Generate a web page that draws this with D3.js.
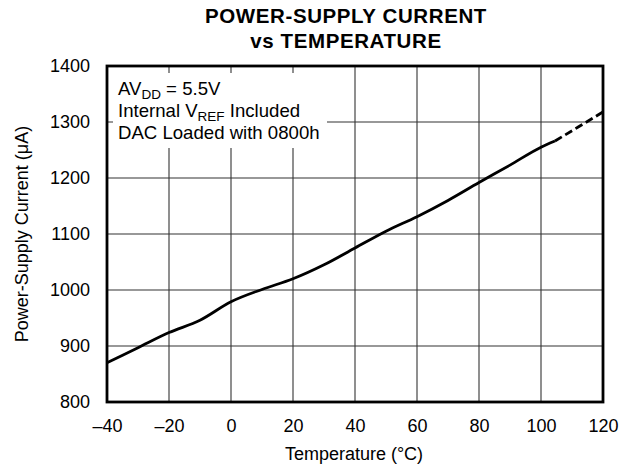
<!DOCTYPE html>
<html>
<head>
<meta charset="utf-8">
<script src="https://cdn.jsdelivr.net/npm/d3@7"></script>
<style>
  html, body { margin: 0; padding: 0; background: #fff; }
  svg { display: block; font-family: "Liberation Sans", Arial, Helvetica, sans-serif; }
</style>
</head>
<body>
<svg id="chart" width="629" height="466"></svg>
<script>
// ---- data ----
const titleLines = ["POWER-SUPPLY CURRENT", "vs TEMPERATURE"];
const xTickValues = [-40, -20, 0, 20, 40, 60, 80, 100, 120];
const yTickValues = [800, 900, 1000, 1100, 1200, 1300, 1400];
const measuredTemps = [-40, -30, -20, -10, 0, 10, 20, 30, 40, 50, 60, 70, 80, 90, 100, 104.5];
const measuredCurrent = [870, 897, 924, 946, 979, 1001, 1020, 1045, 1075, 1105, 1131, 1160, 1192, 1223, 1255, 1266];
const extrapTemps = [104.5, 112, 120];
const extrapCurrent = [1266, 1291, 1318];
const xLabel = "Temperature (°C)";
const yLabel = "Power-Supply Current (μA)";

// ---- layout ----
const svg = d3.select("#chart");
const L = 107, R = 603, T = 66, B = 402;
const x = d3.scaleLinear().domain([-40, 120]).range([L, R]);
const y = d3.scaleLinear().domain([800, 1400]).range([B, T]);

// title
svg.append("g").selectAll("text").data(titleLines).join("text")
  .attr("x", 346).attr("y", (d, i) => 23 + i * 25)
  .attr("text-anchor", "middle")
  .attr("font-size", 20.5).attr("font-weight", "bold")
  .attr("letter-spacing", 0.6)
  .attr("fill", "#000")
  .text(d => d);

// gridlines
const grid = svg.append("g").attr("stroke", "#333").attr("stroke-width", 1.1);
grid.selectAll("line.v").data(xTickValues.filter(v => v > -40 && v < 120)).join("line")
  .attr("x1", d => x(d)).attr("x2", d => x(d)).attr("y1", T).attr("y2", B);
grid.selectAll("line.h").data(yTickValues.filter(v => v > 800 && v < 1400)).join("line")
  .attr("y1", d => y(d)).attr("y2", d => y(d)).attr("x1", L).attr("x2", R);

// annotation box (white background hiding grid)
svg.append("rect").attr("x", 113).attr("y", 73).attr("width", 214).attr("height", 75).attr("fill", "#fff");

const ann = svg.append("g").attr("font-size", 18.6).attr("fill", "#000");
const l1 = ann.append("text").attr("x", 118).attr("y", 95);
l1.append("tspan").text("AV");
l1.append("tspan").attr("font-size", 13.5).attr("dy", 4).text("DD");
l1.append("tspan").attr("dy", -4).text(" = 5.5V");
const l2 = ann.append("text").attr("x", 118).attr("y", 117);
l2.append("tspan").text("Internal V");
l2.append("tspan").attr("font-size", 13.5).attr("dy", 4).text("REF");
l2.append("tspan").attr("dy", -4).text(" Included");
ann.append("text").attr("x", 118).attr("y", 139).text("DAC Loaded with 0800h");

// curve
const line = d3.line().x(d => x(d[0])).y(d => y(d[1])).curve(d3.curveMonotoneX);
svg.append("path").datum(measuredTemps.map((t, i) => [t, measuredCurrent[i]]))
  .attr("d", line).attr("fill", "none").attr("stroke", "#000").attr("stroke-width", 2.8)
  .attr("stroke-linejoin", "round");
svg.append("path").datum(extrapTemps.map((t, i) => [t, extrapCurrent[i]]))
  .attr("d", line).attr("fill", "none").attr("stroke", "#000").attr("stroke-width", 2.8)
  .attr("stroke-dasharray", "8,4");

// border
svg.append("rect").attr("x", L).attr("y", T).attr("width", R - L).attr("height", B - T)
  .attr("fill", "none").attr("stroke", "#000").attr("stroke-width", 2.8);

// axes (labels only)
const xAxis = svg.append("g").attr("transform", `translate(0,${B})`)
  .call(d3.axisBottom(x).tickValues(xTickValues).tickSize(0).tickPadding(0)
    .tickFormat(d => (d < 0 ? "\u2013" + Math.abs(d) : String(d))));
xAxis.select(".domain").remove();
xAxis.selectAll("text").attr("font-size", 18).attr("font-family", null).attr("fill", "#000")
  .attr("dy", null).attr("y", 30);

const yAxis = svg.append("g").attr("transform", `translate(${L},0)`)
  .call(d3.axisLeft(y).tickValues(yTickValues).tickSize(0).tickPadding(17).tickFormat(d3.format("d")));
yAxis.select(".domain").remove();
yAxis.selectAll("text").attr("font-size", 18).attr("font-family", null).attr("fill", "#000");

// axis titles
svg.append("text").attr("x", 354).attr("y", 460).attr("text-anchor", "middle")
  .attr("font-size", 18).attr("fill", "#000").text(xLabel);
svg.append("text").attr("transform", "translate(28,234) rotate(-90)")
  .attr("text-anchor", "middle").attr("font-size", 18).attr("fill", "#000").text(yLabel);
</script>
</body>
</html>
